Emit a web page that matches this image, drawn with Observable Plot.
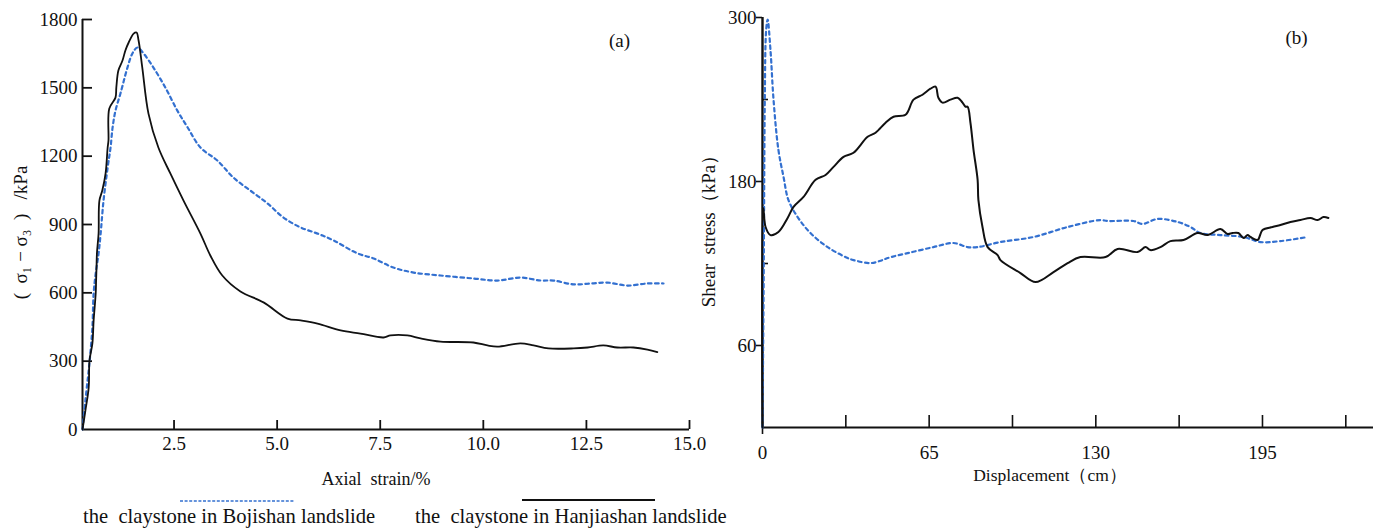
<!DOCTYPE html>
<html><head><meta charset="utf-8">
<script src="https://cdn.jsdelivr.net/npm/d3@7"></script>
<script src="https://cdn.jsdelivr.net/npm/@observablehq/plot@0.6"></script>
<style>
body{margin:0;background:#fff;}
#wrap{position:relative;width:1380px;height:530px;overflow:hidden;background:#fff;}
#left,#right,#legend{position:absolute;}
#left{left:0;top:0;width:700px;height:530px}
#right{left:700px;top:0;width:680px;height:530px}
#legend{left:0;top:485px;width:760px;height:45px}
svg{overflow:visible}
</style></head><body>
<div id="wrap"><div id="left"></div><div id="right"></div><div id="legend"></div></div>
<script>
// ---------- data: (a) triaxial test ----------
const bojiStrain = [0.28,0.35,0.43,0.47,0.52,0.55,0.60,0.67,0.72,0.79,0.89,0.96,1.01,1.08,1.20,1.37,1.49,1.61,1.76,2.00,2.29,2.58,2.83,3.14,3.55,3.94,4.35,4.77,5.15,5.57,5.98,6.37,6.95,7.34,7.82,8.31,8.96,9.76,10.34,10.90,11.39,11.70,12.19,12.60,13.01,13.50,13.98,14.37];
const bojiDev = [0,127,259,334,448,597,685,773,860,1005,1150,1238,1326,1400,1475,1589,1651,1677,1651,1589,1501,1400,1326,1238,1181,1106,1049,992,931,887,860,830,773,751,711,689,676,663,654,667,654,654,637,641,645,632,641,641];
const hanjiStrain = [0.28,0.35,0.43,0.45,0.52,0.55,0.60,0.61,0.62,0.63,0.67,0.69,0.76,0.84,0.89,0.91,0.93,1.08,1.10,1.15,1.25,1.32,1.40,1.52,1.59,1.64,1.73,1.88,2.12,2.41,2.73,3.14,3.38,3.67,4.11,4.67,5.25,5.57,5.98,6.54,7.02,7.58,7.75,8.16,8.48,8.96,9.76,10.10,10.34,10.90,11.22,11.58,12.19,12.53,12.91,13.25,13.64,13.98,14.22];
const hanjiDev = [0,83,184,303,378,479,597,654,711,773,860,1005,1049,1124,1238,1269,1409,1457,1501,1576,1620,1664,1699,1738,1743,1708,1589,1387,1238,1124,1005,860,764,676,606,558,487,479,465,435,421,404,413,413,400,386,382,369,364,378,369,356,356,360,369,360,360,351,340];
const leftXTicks = [2.5,5,7.5,10,12.5,15];
const leftYTicks = [0,300,600,900,1200,1500,1800];

// ---------- data: (b) ring shear test ----------
const bojiDisp = [0,0.5,0.9,1.4,2.0,3.1,4.3,6.2,8.2,10.1,13.7,18.7,25.4,33.2,35.5,42.1,46.8,48.8,56.6,66.7,74.5,80.0,83.9,92.8,105.7,119.0,131.8,134.6,144.7,148.2,154.1,161.9,166.9,170.8,178.6,187.6,194.2,202.0,212.6];
const bojiShear = [0,120,240,290,298.5,276.5,239.9,203.2,183.4,166.5,154.0,142.3,132.0,124.0,122.5,120.3,122.5,124.0,127.6,132.0,135.0,132.0,132.0,135.7,139.4,146.7,151.8,151.1,151.1,148.9,152.6,150.4,146.7,142.3,140.8,139.4,135.7,136.4,139.4];
const hanjiDisp = [0,0.3,1.2,3.1,6.2,9.8,12.1,16.0,20.7,24.6,27.7,31.6,35.5,41.0,44.1,48.0,51.1,55.8,58.9,62.4,65.5,67.5,68.6,70.2,73.3,76.1,78.0,79.2,80.0,81.1,82.3,83.9,84.2,85.8,87.8,91.7,92.8,100.6,106.5,113.5,119.0,124.0,133.8,138.5,146.3,149.4,151.3,155.2,159.1,164.2,169.7,173.6,178.6,181.4,183.3,185.6,187.6,189.2,190.3,193.1,195.0,198.9,202.0,205.9,209.8,213.7,216.5,218.8,220.7];
const hanjiShear = [0,160.6,146.7,140.8,143.0,153.3,161.4,168.7,181.2,184.8,190.7,198.0,201.0,212.7,215.7,223.0,227.4,228.8,239.9,243.5,247.9,249.4,241.3,237.7,239.9,241.3,237.7,234.7,234.7,223.0,203.2,181.2,166.5,146.7,132.0,126.2,122.5,113.0,106.4,113.7,120.3,124.7,124.7,130.6,128.4,132.0,129.8,132.0,136.4,137.2,142.3,140.8,145.2,141.6,142.3,142.3,138.6,140.8,139.4,137.2,144.5,146.7,148.2,150.4,151.8,153.3,151.8,154.0,153.3];
const rightXTicks = [32.5,65,97.5,130,162.5,195,227.5];
const rightXLabels = [0,65,130,195];
const rightYLabels = [60,180,300];
const rightYMinor = [120,240];

const seriesNames = ["the  claystone in Bojishan landslide", "the  claystone in Hanjiashan landslide"];
const labels = {
  ax: "Axial  strain/%", ay: "(  σ₁ − σ₃  )   /kPa",
  bx: "Displacement（cm）", by: "Shear  stress（kPa）",
  a: "(a)", b: "(b)"
};

// ---------- styling ----------
const SERIF = '"Liberation Serif", "Times New Roman", serif';
const BLUE = "#3370d0";
const INK = "#111";
const zip = (xs, ys) => xs.map((x, i) => ({x, y: ys[i]}));
const fmtInt = d => String(d);

const left = Plot.plot({
  width: 700, height: 530,
  marginLeft: 82, marginRight: 11, marginTop: 19, marginBottom: 101,
  style: {fontFamily: SERIF, fontSize: "19px", color: INK, background: "transparent", overflow: "visible"},
  x: {domain: [0.28, 15]},
  y: {domain: [0, 1800]},
  marks: [
    Plot.ruleX([0.28], {stroke: INK, strokeWidth: 2}),
    Plot.ruleY([0], {stroke: INK, strokeWidth: 2}),
    Plot.tickX(leftXTicks, {x: d => d, insetTop: 401, stroke: INK, strokeWidth: 1.8}),
    Plot.tickY(leftYTicks.slice(1), {y: d => d, insetRight: 597, stroke: INK, strokeWidth: 1.8}),
    Plot.axisY(leftYTicks, {tickSize: 0, tickPadding: 5, label: null, tickFormat: fmtInt, fontFamily: SERIF, fontSize: 19}),
    Plot.axisX(leftXTicks, {tickSize: 0, tickPadding: 7, tickFormat: d => d.toFixed(1), label: null, fontFamily: SERIF, fontSize: 19}),
    Plot.line(zip(bojiStrain, bojiDev), {x: "x", y: "y", stroke: BLUE, strokeWidth: 2.2, strokeDasharray: "3.5,3.5", curve: "catmull-rom"}),
    Plot.line(zip(hanjiStrain, hanjiDev), {x: "x", y: "y", stroke: INK, strokeWidth: 1.8, curve: "catmull-rom"}),
    Plot.text([labels.ax], {frameAnchor: "bottom", textAnchor: "middle", dx: -10, dy: 55, fontSize: 18, fontFamily: SERIF}),
    Plot.text([labels.ay], {frameAnchor: "left", textAnchor: "middle", rotate: -90, dx: -62, dy: 8, fontSize: 19, fontFamily: SERIF}),
    Plot.text([labels.a], {frameAnchor: "top-right", textAnchor: "middle", dx: -70, dy: 14, fontSize: 19, fontFamily: SERIF})
  ]
});

const right = Plot.plot({
  width: 680, height: 530,
  marginLeft: 62, marginRight: 7, marginTop: 17, marginBottom: 103,
  style: {fontFamily: SERIF, fontSize: "19px", color: INK, background: "transparent", overflow: "visible"},
  x: {domain: [0, 238.3]},
  y: {domain: [0, 300]},
  marks: [
    Plot.ruleX([0], {stroke: INK, strokeWidth: 2.4}),
    Plot.ruleY([0], {stroke: INK, strokeWidth: 2}),
    Plot.tickX(rightXTicks, {x: d => d, insetTop: 398, stroke: INK, strokeWidth: 1.6}),
    Plot.tickY(rightYMinor, {y: d => d, insetRight: 605, stroke: INK, strokeWidth: 1.6}),
    Plot.axisY(rightYLabels, {tickSize: 6, tickPadding: 0, label: null, tickFormat: fmtInt, fontFamily: SERIF, fontSize: 19, strokeWidth: 1.6}),
    Plot.axisX(rightXLabels, {tickSize: 0, tickPadding: 18, label: null, tickFormat: fmtInt, fontFamily: SERIF, fontSize: 19}),
    Plot.axisX([0], {tickSize: 7, fill: "none", label: null, strokeWidth: 1.6}),
    Plot.line(zip(bojiDisp, bojiShear), {x: "x", y: "y", stroke: BLUE, strokeWidth: 2.2, strokeDasharray: "3.5,3.5", curve: "catmull-rom"}),
    Plot.line(zip(hanjiDisp, hanjiShear), {x: "x", y: "y", stroke: INK, strokeWidth: 2, curve: "catmull-rom"}),
    Plot.text([labels.bx], {frameAnchor: "bottom", textAnchor: "middle", dx: -18, dy: 53, fontSize: 17.5, fontFamily: SERIF}),
    Plot.text([labels.by], {frameAnchor: "left", textAnchor: "middle", rotate: -90, dx: -54, dy: 4, fontSize: 19, fontFamily: SERIF}),
    Plot.text([labels.b], {frameAnchor: "top-right", textAnchor: "middle", dx: -77, dy: 13, fontSize: 19, fontFamily: SERIF})
  ]
});

document.getElementById("left").appendChild(left);
document.getElementById("right").appendChild(right);

// legend below panel (a)
const leg = d3.select("#legend").append("svg").attr("width", 760).attr("height", 45)
  .style("font-family", SERIF).style("font-size", "20.6px").style("display", "block");
leg.append("line").attr("x1", 180).attr("x2", 295).attr("y1", 16).attr("y2", 16)
  .attr("stroke", BLUE).attr("stroke-width", 1.5).attr("stroke-dasharray", "3,1.6");
leg.append("line").attr("x1", 522).attr("x2", 655).attr("y1", 15).attr("y2", 15)
  .attr("stroke", INK).attr("stroke-width", 2);
leg.append("text").attr("x", 83).attr("y", 38).attr("fill", INK).style("white-space", "pre").text(seriesNames[0]);
leg.append("text").attr("x", 415).attr("y", 38).attr("fill", INK).style("white-space", "pre").text(seriesNames[1]);
</script>
</body></html>
